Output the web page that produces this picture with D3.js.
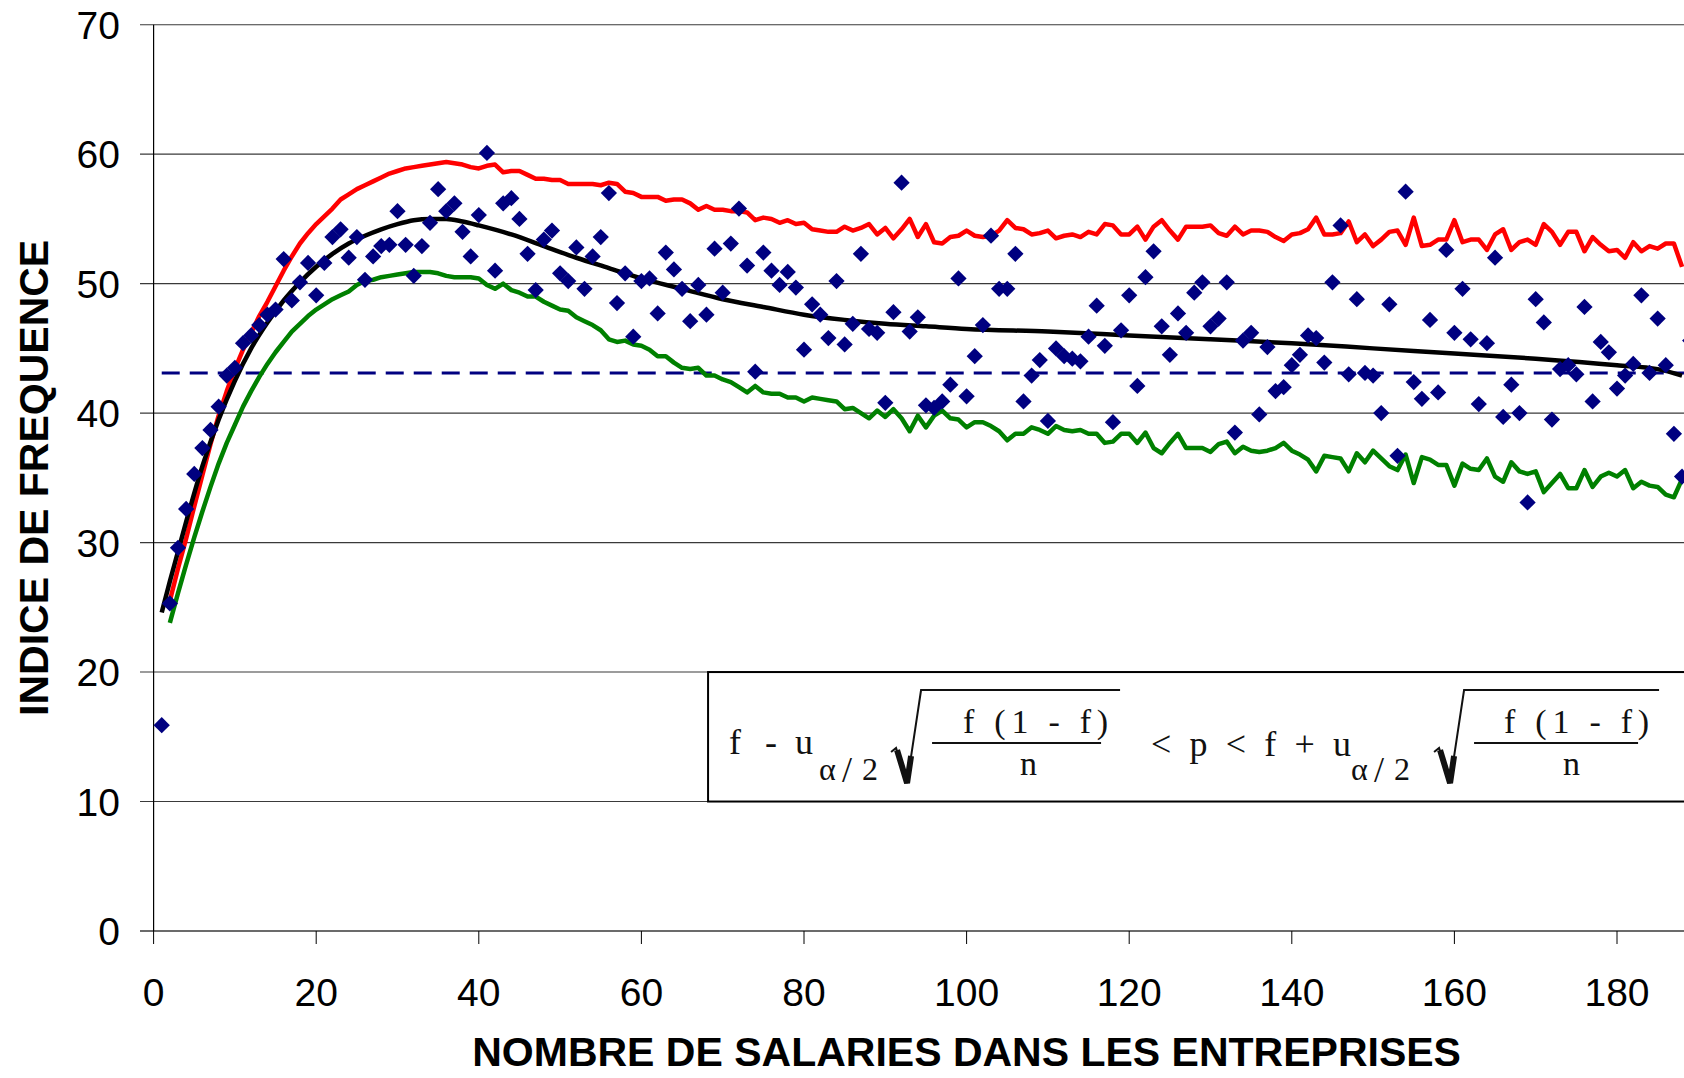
<!DOCTYPE html>
<html>
<head>
<meta charset="utf-8">
<script src="https://cdn.jsdelivr.net/npm/d3@7"></script>
<style>
  body { margin: 0; background: #fff; }
  svg { display: block; }
</style>
</head>
<body>
<script>
// indice de frequence per company size, x = 1, 2, 3 ...
let indice = [15.9, 25.3, 29.6, 32.6, 35.3, 37.3, 38.7, 40.5, 42.9, 43.5,
  45.4, 46.0, 46.8, 47.6, 48.0, 51.9, 48.7, 50.1, 51.6, 49.1,
  51.6, 53.6, 54.2, 52.0, 53.6, 50.3, 52.1, 52.9, 53.0, 55.6,
  53.0, 50.6, 52.9, 54.7, 57.3, 55.6, 56.2, 54.0, 52.1, 55.3,
  60.1, 51.0, 56.2, 56.6, 55.0, 52.3, 49.5, 53.4, 54.1, 50.8,
  50.2, 52.8, 49.6, 52.1, 53.6, 57.0, 48.5, 50.8, 45.9, 50.2,
  50.4, 47.7, 52.4, 51.1, 49.6, 47.1, 49.9, 47.6, 52.7, 49.3,
  53.1, 55.8, 51.4, 43.2, 52.4, 51.0, 49.9, 50.9, 49.7, 44.9,
  48.4, 47.6, 45.8, 50.2, 45.3, 46.9, 52.3, 46.5, 46.2, 40.8,
  47.8, 57.8, 46.3, 47.4, 40.6, 40.4, 40.9, 42.2, 50.4, 41.3,
  44.4, 46.8, 53.7, 49.6, 49.6, 52.3, 40.9, 42.9, 44.1, 39.4,
  45.0, 44.4, 44.2, 44.0, 45.9, 48.3, 45.2, 39.3, 46.4, 49.1,
  42.1, 50.5, 52.5, 46.7, 44.5, 47.7, 46.2, 49.3, 50.1, 46.7,
  47.3, 50.1, 38.5, 45.6, 46.2, 39.9, 45.1, 41.7, 42.0, 43.7,
  44.5, 46.0, 45.8, 43.9, 50.1, 54.5, 43.0, 48.8, 43.1, 42.9,
  40.0, 48.4, 36.7, 57.1, 42.4, 41.1, 47.2, 41.6, 52.6, 46.2,
  49.6, 45.7, 40.7, 45.4, 52.0, 39.7, 42.2, 40.0, 33.1, 48.8,
  47.0, 39.5, 43.4, 43.7, 43.0, 48.2, 40.9, 45.5, 44.7, 41.9,
  42.9, 43.8, 49.1, 43.1, 47.3, 43.7, 38.4, 35.1, 45.6]

// upper bound of the interval, x = 2, 3, 4 ...
let borneSup = [25.5, 28.0, 30.3, 32.8, 35.2, 37.6, 39.8, 41.7, 43.4,
  44.9, 46.2, 47.5, 48.6, 49.8, 51.0, 52.1, 53.1, 53.9, 54.6,
  55.2, 55.8, 56.5, 56.9, 57.3, 57.6, 57.9, 58.2, 58.5, 58.7,
  58.9, 59.0, 59.1, 59.2, 59.3, 59.4, 59.3, 59.2, 59.0, 58.9,
  59.1, 59.2, 58.6, 58.7, 58.7, 58.4, 58.1, 58.1, 58.0, 58.0,
  57.7, 57.7, 57.7, 57.7, 57.6, 57.8, 57.7, 57.1, 57.0, 56.7,
  56.7, 56.7, 56.4, 56.5, 56.5, 56.2, 55.7, 56.0, 55.7, 55.7,
  55.6, 55.6, 55.5, 54.9, 55.1, 55.0, 54.7, 54.9, 54.6, 54.7,
  54.2, 54.1, 54.0, 54.0, 54.4, 54.1, 54.3, 54.6, 53.8, 54.3,
  53.5, 54.2, 55.0, 53.6, 54.6, 53.2, 53.1, 53.6, 53.7, 54.1,
  53.7, 53.6, 53.7, 54.1, 54.9, 54.3, 54.2, 53.8, 53.9, 54.1,
  53.5, 53.7, 53.8, 53.6, 54.0, 53.8, 54.6, 54.5, 53.8, 53.8,
  54.4, 53.4, 54.4, 54.9, 54.1, 53.4, 54.4, 54.4, 54.4, 54.5,
  53.9, 53.7, 54.4, 53.8, 54.1, 54.1, 54.0, 53.6, 53.3, 53.8,
  53.9, 54.2, 55.1, 53.8, 53.8, 53.9, 54.8, 53.2, 53.8, 52.9,
  53.4, 54.0, 54.1, 53.0, 55.1, 52.9, 53.0, 53.4, 53.4, 54.9,
  53.2, 53.4, 53.4, 52.6, 53.8, 54.2, 52.6, 53.2, 53.4, 53.0,
  54.6, 54.0, 53.0, 54.0, 54.0, 52.5, 53.6, 53.0, 52.5, 52.6,
  52.0, 53.2, 52.5, 52.9, 52.7, 53.1, 53.1, 51.3]

// lower bound of the interval, x = 2, 3, 4 ...
let borneInf = [23.8, 26.1, 28.3, 30.4, 32.4, 34.3, 36.1, 37.7, 39.1,
  40.5, 41.7, 42.8, 43.8, 44.7, 45.5, 46.3, 46.9, 47.5, 48.0,
  48.4, 48.8, 49.1, 49.4, 49.9, 50.2, 50.3, 50.5, 50.6, 50.7,
  50.8, 50.9, 50.9, 50.9, 50.8, 50.6, 50.5, 50.5, 50.5, 50.4,
  49.9, 49.6, 50.0, 49.5, 49.3, 49.0, 49.0, 48.6, 48.3, 48.0,
  47.9, 47.4, 47.1, 46.8, 46.4, 45.7, 45.5, 45.6, 45.3, 45.2,
  44.9, 44.4, 44.4, 43.9, 43.5, 43.4, 43.5, 42.9, 42.9, 42.6,
  42.4, 42.0, 41.6, 42.1, 41.6, 41.5, 41.5, 41.2, 41.2, 40.9,
  41.2, 41.1, 41.0, 40.9, 40.3, 40.4, 40.0, 39.6, 40.2, 39.7,
  40.3, 39.6, 38.6, 39.8, 38.9, 39.8, 40.2, 39.6, 39.5, 38.9,
  39.3, 39.3, 39.0, 38.6, 37.9, 38.4, 38.4, 38.9, 38.7, 38.4,
  39.0, 38.7, 38.6, 38.7, 38.4, 38.4, 37.7, 37.8, 38.4, 38.4,
  37.7, 38.5, 37.3, 36.9, 37.7, 38.4, 37.3, 37.3, 37.3, 37.0,
  37.6, 37.8, 36.9, 37.4, 37.1, 37.0, 37.1, 37.3, 37.7, 37.1,
  36.8, 36.4, 35.5, 36.7, 36.6, 36.5, 35.5, 36.9, 36.2, 37.1,
  36.5, 35.9, 35.6, 36.8, 34.6, 36.6, 36.4, 36.0, 36.0, 34.4,
  36.1, 35.7, 35.6, 36.5, 35.1, 34.7, 36.2, 35.5, 35.3, 35.5,
  33.9, 34.6, 35.3, 34.2, 34.2, 35.6, 34.3, 35.1, 35.4, 35.1,
  35.6, 34.2, 34.7, 34.4, 34.3, 33.7, 33.5, 34.9]

// trend curve, read at a few sizes
let tendanceX = [1, 2, 3, 4, 6, 8, 10, 12, 14, 16, 18, 20, 22, 24, 26, 28, 30, 32, 34, 36, 38, 40,
  44, 48, 52, 56, 60, 65, 70, 75, 80, 85, 90, 95, 100, 110, 120, 130, 140, 150, 160, 170, 180, 185, 188]
let tendanceY = [24.6, 27.0, 29.3, 31.6, 35.9, 39.5, 42.5, 45.0, 47.0, 48.7, 50.1, 51.3, 52.3, 53.1, 53.7, 54.2, 54.6, 54.9, 55.0, 55.0, 54.8, 54.5,
  53.8, 52.9, 52.0, 51.2, 50.4, 49.6, 48.8, 48.2, 47.6, 47.2, 46.9, 46.7, 46.5, 46.3, 46.0, 45.7, 45.4, 45.0, 44.6, 44.2, 43.7, 43.4, 42.9]

let moyenne = 43.1
let xTicks = [0, 20, 40, 60, 80, 100, 120, 140, 160, 180]
let yTicks = [0, 10, 20, 30, 40, 50, 60, 70]

let W = 1684, H = 1078
let x = d3.scaleLinear().domain([0, 200]).range([153.6, 1779.6])
let y = d3.scaleLinear().domain([0, 70]).range([931, 24.7])

let svg = d3.select('body')
    .append('svg')
    .attr('width', W)
    .attr('height', H)
    .style('font-family', '"Liberation Sans", Arial, sans-serif')

//gridlines + y ticks
svg.append('g')
    .selectAll('line')
    .data(yTicks)
    .join('line')
    .attr('x1', 140)
    .attr('x2', W)
    .attr('y1', d => y(d))
    .attr('y2', d => y(d))
    .style('stroke', '#3a3a3a')
    .style('stroke-width', d => d == 0 ? 1.6 : 1.1)

svg.append('g')
    .selectAll('text')
    .data(yTicks)
    .join('text')
    .attr('x', 120)
    .attr('y', d => y(d))
    .attr('dy', '0.36em')
    .attr('text-anchor', 'end')
    .style('font-size', '39px')
    .text(d => d)

//x ticks
svg.append('g')
    .selectAll('line')
    .data(xTicks)
    .join('line')
    .attr('x1', d => x(d))
    .attr('x2', d => x(d))
    .attr('y1', y(0))
    .attr('y2', y(0) + 13)
    .style('stroke', 'black')
    .style('stroke-width', 1)

svg.append('g')
    .selectAll('text')
    .data(xTicks)
    .join('text')
    .attr('x', d => x(d))
    .attr('y', 1006)
    .attr('text-anchor', 'middle')
    .style('font-size', '39px')
    .text(d => d)

//left axis
svg.append('line')
    .attr('x1', x(0)).attr('x2', x(0))
    .attr('y1', y(70)).attr('y2', y(0))
    .style('stroke', 'black')
    .style('stroke-width', 1.2)

//axis titles
svg.append('text')
    .attr('x', (x(0) + x(200)) / 2)
    .attr('y', 1066)
    .attr('text-anchor', 'middle')
    .style('font-size', '41px')
    .style('font-weight', 'bold')
    .text('NOMBRE DE SALARIES DANS LES ENTREPRISES')

svg.append('text')
    .attr('transform', `translate(48, ${(y(0) + y(70)) / 2}) rotate(-90)`)
    .attr('text-anchor', 'middle')
    .style('font-size', '41px')
    .style('font-weight', 'bold')
    .text('INDICE DE FREQUENCE')

//formula box
let bx = x(68.2), by = y(20)
svg.append('rect')
    .attr('x', bx)
    .attr('y', by)
    .attr('width', x(200) - bx)
    .attr('height', y(10) - y(20))
    .style('fill', 'white')
    .style('stroke', 'black')
    .style('stroke-width', 2)

let fg = svg.append('g')
    .attr('transform', `translate(${bx}, ${by})`)
    .style('font-family', '"Liberation Serif", "DejaVu Serif", serif')
    .style('fill', '#111')

function formulaText(tx, ty, size, str, len){
  let t = fg.append('text')
      .attr('x', tx)
      .attr('y', ty)
      .style('font-size', size + 'px')
      .text(str)
  if (len) t.attr('textLength', len).attr('lengthAdjust', 'spacing')
  return t
}
function radical(rx, vEnd, fx1, fx2){
  fg.append('path')
      .attr('d', `M${rx},${80} L${rx + 5},${76} L${rx + 16},${111} L${rx + 30},${18} L${vEnd},${18}`)
      .style('fill', 'none')
      .style('stroke', '#111')
      .style('stroke-width', 2)
  fg.append('path')
      .attr('d', `M${rx + 6},${78} L${rx + 16},${111} L${rx + 20},${84}`)
      .style('fill', 'none')
      .style('stroke', '#111')
      .style('stroke-width', 6)
  fg.append('line')
      .attr('x1', fx1).attr('x2', fx2)
      .attr('y1', 71).attr('y2', 71)
      .style('stroke', '#111')
      .style('stroke-width', 2)
}

formulaText(21, 82, 36, 'f')
formulaText(57, 82, 36, '-')
formulaText(87, 82, 36, 'u')
formulaText(111, 108, 32, 'α')
formulaText(134, 110, 36, '/')
formulaText(154, 108, 32, '2')
radical(183, 412, 224, 393)
formulaText(255, 61, 34, 'f (1 - f)', 145)
formulaText(312, 103, 34, 'n')

formulaText(443, 84, 36, '< p < f + u', 200)
formulaText(643, 108, 32, 'α')
formulaText(666, 110, 36, '/')
formulaText(686, 108, 32, '2')
radical(726, 951, 766, 930)
formulaText(796, 61, 34, 'f (1 - f)', 145)
formulaText(855, 103, 34, 'n')

//mean level
svg.append('path')
    .datum([1, 200])
    .attr('d', d3.line().x(d => x(d)).y(() => y(moyenne)))
    .style('fill', 'none')
    .style('stroke', '#000080')
    .style('stroke-width', 3)
    .style('stroke-dasharray', '18,10')

//upper and lower bounds
let boundLine = d3.line()
    .x((d, i) => x(i + 2))
    .y(d => y(d))

svg.append('path')
    .datum(borneSup)
    .attr('d', boundLine)
    .style('fill', 'none')
    .style('stroke', '#ff0000')
    .style('stroke-width', 4.5)
    .style('stroke-linejoin', 'round')

svg.append('path')
    .datum(borneInf)
    .attr('d', boundLine)
    .style('fill', 'none')
    .style('stroke', '#008000')
    .style('stroke-width', 4.5)
    .style('stroke-linejoin', 'round')

//trend curve
svg.append('path')
    .datum(d3.zip(tendanceX, tendanceY))
    .attr('d', d3.line().x(d => x(d[0])).y(d => y(d[1])).curve(d3.curveMonotoneX))
    .style('fill', 'none')
    .style('stroke', 'black')
    .style('stroke-width', 4.5)

//points
svg.append('g')
    .selectAll('path')
    .data(indice)
    .join('path')
    .attr('d', d3.symbol(d3.symbolSquare, 132))
    .attr('transform', (d, i) => `translate(${x(i + 1)}, ${y(d)}) rotate(45)`)
    .style('fill', '#000080')
</script>
</body>
</html>
